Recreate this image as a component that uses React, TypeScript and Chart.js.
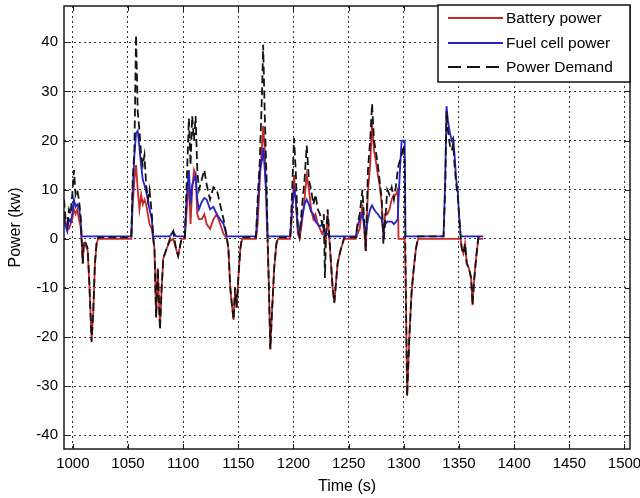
import React, { useEffect, useRef } from "react";
import { Chart, registerables } from "chart.js";

Chart.register(...registerables);

// ---- data ----
const times = [
  992, 993.5, 995, 996.5, 998, 999.5, 1001, 1002.5, 1004, 1005.5,
  1007, 1008, 1009, 1010, 1012, 1013.5, 1015, 1017, 1018.5, 1020,
  1021.5, 1023, 1053, 1054.3, 1055.8, 1057.3, 1058.8, 1060.4, 1061.9, 1063.4,
  1064.9, 1066.5, 1068, 1069.5, 1071.6, 1072.8, 1074, 1075.5, 1077, 1079,
  1080.5, 1082, 1085, 1088, 1091, 1093.5, 1095.4, 1098.5, 1101.5, 1103,
  1105.2, 1106.7, 1108.2, 1109.8, 1111.3, 1112.8, 1114.3, 1116.8, 1119.2, 1121.3,
  1124.4, 1127.4, 1130.5, 1133.5, 1136.6, 1139.6, 1141, 1142.7, 1144, 1145.7,
  1147, 1148.5, 1150, 1151.8, 1153.4, 1166, 1167.5, 1169.5, 1171.5, 1172.5,
  1174, 1175.6, 1176.5, 1177.5, 1179, 1180.5, 1182.5, 1184.5, 1186, 1197,
  1198.5, 1200.5, 1202, 1204, 1205.5, 1207.5, 1210, 1212, 1214, 1216,
  1218, 1220, 1222, 1224, 1226, 1227.5, 1228.5, 1229.5, 1231, 1232.5,
  1234, 1235.5, 1237, 1238.5, 1240, 1243, 1246, 1256.5, 1258, 1260,
  1262.5, 1264, 1265.5, 1267.5, 1269.5, 1271.2, 1273, 1274.5, 1276.5, 1278,
  1280, 1281.5, 1283, 1285, 1287, 1289, 1291, 1293, 1294.5, 1295.2,
  1296.5, 1298, 1300, 1300.8, 1301.5, 1303, 1305, 1307, 1309, 1311,
  1313, 1336, 1337.5, 1338.7, 1340, 1341.8, 1343.5, 1344.8, 1346, 1347.5,
  1348.8, 1350, 1351.5, 1352.5, 1354, 1355.5, 1357, 1359, 1361, 1362.3,
  1363.5, 1365.5, 1367.5, 1372,
];

const powerDemand = [
  8, 4, 3, 6, 5, 9, 14, 9, 10, 8,
  5, 0, -5, -0.5, -1, -2, -9, -21, -15, -5,
  -1, 0.3, 0.3, 12, 18, 41.5, 26, 22, 17, 15,
  17, 11, 8, 10, 5, 0.3, -2, -16, -6, -18.5,
  -10, -4, -2, 0, 1.5, -2, -3.5, 0, 0.3, 10,
  24.5, 15, 25, 20, 25, 14, 10, 12, 14, 11,
  8, 10.5, 10, 7, 4, 0.3, -2, -10, -13, -16.5,
  -10, -14, -8, -2, 0.3, 0.3, 8, 16, 30, 39.5,
  25, 12, 0.3, -8, -22.5, -15, -6, -1, 0.3, 0.3,
  8, 20.5, 14, 2, 0.5, 6, 12, 19, 12, 10,
  7, 9, 6, 5, 3, 5, -8, 1, 6, 0.3,
  -5, -10, -13, -9, -5, -2, 0.3, 0.3, 3, 5,
  10, 4, -2.5, 14, 20, 27.5, 20, 18, 15, 12,
  8, -1, 3, 10, 9, 10.5, 8, 11, 14, 15,
  16, 17, 19, 15, -5, -32, -20, -11, -6, -2,
  0.5, 0.5, 10, 26, 22, 19, 18, 19.5, 15, 11,
  9, 5, 0.5, -2, -3, -1, -5, -6, -8, -13.5,
  -9, -4, 0.3, 0.3,
];

const fuelCellPower = [
  4, 2.5, 1.5, 4, 3.5, 5, 8, 6.5, 7, 6.5,
  4, 0.5, 0.5, 0.5, 0.5, 0.5, 0.5, 0.5, 0.5, 0.5,
  0.5, 0.5, 0.5, 10, 17, 21.5, 22, 18.5, 15, 12,
  11, 9.5, 8, 6, 4, 0.5, 0.5, 0.5, 0.5, 0.5,
  0.5, 0.5, 0.5, 0.5, 1.5, 0.5, 0.5, 0.5, 0.5, 8,
  14, 7, 11, 12, 13, 8, 6, 7.5, 8.3, 8,
  6, 6.5, 5, 4, 3, 0.5, 0.5, 0.5, 0.5, 0.5,
  0.5, 0.5, 0.5, 0.5, 0.5, 0.5, 6, 14, 16, 18.5,
  14, 8, 0.5, 0.5, 0.5, 0.5, 0.5, 0.5, 0.5, 0.5,
  6, 10, 8, 2, 1.5, 4, 7, 8, 7, 5.5,
  5, 3.5, 3, 2.5, 3, 2, 0.5, 1, 1, 0.5,
  0.5, 0.5, 0.5, 0.5, 0.5, 0.5, 0.5, 0.5, 2.5, 4,
  5, 3, 1, 4, 6, 6.8, 6, 5.5, 5, 4.5,
  4, 1.5, 3, 3.5, 3.5, 3.5, 3, 3.5, 4, 8,
  14, 20, 20, 20, 0.5, 0.5, 0.5, 0.5, 0.5, 0.5,
  0.5, 0.5, 12, 27, 24, 21.5, 20, 20.5, 17, 12,
  10, 5, 0.5, 0.5, 0.5, 0.5, 0.5, 0.5, 0.5, 0.5,
  0.5, 0.5, 0.5, 0.5,
];

const batteryPower = [
  5, 3, 2, 2, 3, 4, 6, 5, 6, 4,
  2.5, -0.5, -5, -1, -1.5, -2.5, -9.5, -20.5, -15, -5.5,
  -1, 0, 0, 7, 12, 15, 10, 6, 9, 7,
  8, 7, 5, 3, 2, 0, -2, -16, -6, -18,
  -10, -4, -2, -0.5, 0, -2, -3.5, 0, 0, 5,
  12, 3, 10, 14, 13, 5, 4, 4, 5, 3,
  2, 4, 5, 3, 1, 0, -2, -10, -13, -16.5,
  -11, -14, -8, -2, 0, 0, 3, 12, 19, 23,
  18, 5, 0, -8, -22.5, -15, -6, -1, 0, 0,
  4, 13, 8, 1, 0, 3, 8, 13, 10, 6,
  4, 5, 3, 2, 1, 2, -1, 0, 5, 0,
  -5, -10, -13, -9, -5, -2, 0, 0, 1, 2,
  7, 2, -2.5, 10, 15, 23.5, 18, 16, 13, 11,
  7, -0.5, 5, 5, 6, 8, 9, 9, 10, 0,
  0, 0, 0, 0, -5, -32, -20, -11, -6, -2,
  0, 0, 0, 0, 0, 0, 0, 0, 0, 0,
  0, 0, 0, -2, -3, -1, -5, -6, -8, -13.5,
  -9, -4, 0, 0,
];

const xTickValues = [1000, 1050, 1100, 1150, 1200, 1250, 1300, 1350, 1400, 1450, 1500];
const yTickValues = [-40, -30, -20, -10, 0, 10, 20, 30, 40];
const seriesLabels = ["Battery power", "Fuel cell power", "Power Demand"];
const seriesColors = ["#c8282a", "#2323c6", "#141414"];

const FONT = "'Liberation Sans', Arial, Helvetica, sans-serif";

const toPoints = (vals: number[]) => times.map((t, i) => ({ x: t, y: vals[i] }));

const framePlugin = {
  id: "matlabFrame",
  afterDatasetsDraw(chart: any) {
    const { ctx, chartArea: a, scales } = chart;
    ctx.save();
    ctx.strokeStyle = "#1a1a1a";
    ctx.lineWidth = 1;
    ctx.setLineDash([]);
    const L = 5;
    ctx.beginPath();
    for (const v of xTickValues) {
      const x = Math.round(scales.x.getPixelForValue(v)) + 0.5;
      ctx.moveTo(x, a.bottom);
      ctx.lineTo(x, a.bottom - L);
      ctx.moveTo(x, a.top);
      ctx.lineTo(x, a.top + L);
    }
    for (const v of yTickValues) {
      const y = Math.round(scales.y.getPixelForValue(v)) + 0.5;
      ctx.moveTo(a.left, y);
      ctx.lineTo(a.left + L, y);
      ctx.moveTo(a.right, y);
      ctx.lineTo(a.right - L, y);
    }
    ctx.stroke();
    ctx.lineWidth = 1.5;
    ctx.strokeRect(a.left, a.top, a.right - a.left, a.bottom - a.top);
    ctx.restore();
  },
  afterDraw(chart: any) {
    const { ctx, chartArea: a } = chart;
    const w = 192;
    const h = 77;
    const left = a.right - w;
    const top = a.top - 1;
    ctx.save();
    ctx.fillStyle = "#ffffff";
    ctx.fillRect(left, top, w, h);
    ctx.strokeStyle = "#111";
    ctx.lineWidth = 1.5;
    ctx.setLineDash([]);
    ctx.strokeRect(left, top, w, h);
    const rows = [13, 38, 62];
    ctx.font = `15.5px ${FONT}`;
    ctx.textBaseline = "middle";
    ctx.textAlign = "left";
    seriesLabels.forEach((label, i) => {
      const y = top + rows[i];
      ctx.beginPath();
      ctx.strokeStyle = seriesColors[i];
      ctx.lineWidth = 1.8;
      ctx.setLineDash(i === 2 ? [13, 6] : []);
      ctx.moveTo(left + 10, y);
      ctx.lineTo(left + 65, y);
      ctx.stroke();
      ctx.setLineDash([]);
      ctx.fillStyle = "#000";
      ctx.fillText(label, left + 68, y + 1);
    });
    ctx.restore();
  },
};

export default function App() {
  const canvasRef = useRef<HTMLCanvasElement | null>(null);

  useEffect(() => {
    const canvas = canvasRef.current;
    if (!canvas) return;
    const chart = new Chart(canvas, {
      type: "line",
      data: {
        datasets: [
          {
            label: seriesLabels[2],
            data: toPoints(powerDemand),
            borderColor: seriesColors[2],
            borderWidth: 1.8,
            borderDash: [8, 4],
            pointRadius: 0,
            tension: 0,
            order: 0,
          },
          {
            label: seriesLabels[1],
            data: toPoints(fuelCellPower),
            borderColor: seriesColors[1],
            borderWidth: 1.8,
            pointRadius: 0,
            tension: 0,
            order: 1,
          },
          {
            label: seriesLabels[0],
            data: toPoints(batteryPower),
            borderColor: seriesColors[0],
            borderWidth: 1.8,
            pointRadius: 0,
            tension: 0,
            order: 2,
          },
        ],
      },
      options: {
        responsive: false,
        animation: false,
        events: [],
        layout: { padding: { top: 6, right: 10, left: 0, bottom: 0 } },
        plugins: {
          legend: { display: false },
          tooltip: { enabled: false },
        },
        scales: {
          x: {
            type: "linear",
            min: 992,
            max: 1505,
            afterBuildTicks: (s: any) => {
              s.ticks = xTickValues.map((v) => ({ value: v }));
            },
            afterFit: (s: any) => {
              s.height = 49;
              s.paddingLeft = 0;
              s.paddingRight = 0;
            },
            grid: { color: "#333", lineWidth: 1, drawTicks: false },
            border: { display: false, dash: [2, 3] },
            ticks: {
              autoSkip: false,
              maxRotation: 0,
              padding: 6,
              color: "#000",
              font: { family: FONT, size: 15 },
              callback: (v: any) => String(v),
            },
            title: {
              display: true,
              text: "Time (s)",
              color: "#000",
              font: { family: FONT, size: 16 },
              padding: { top: 0, bottom: 2 },
            },
          },
          y: {
            type: "linear",
            min: -42.8,
            max: 47.4,
            afterBuildTicks: (s: any) => {
              s.ticks = yTickValues.map((v) => ({ value: v }));
            },
            afterFit: (s: any) => {
              s.width = 64;
              s.paddingTop = 0;
              s.paddingBottom = 0;
            },
            grid: { color: "#333", lineWidth: 1, drawTicks: false },
            border: { display: false, dash: [2, 3] },
            ticks: {
              autoSkip: false,
              padding: 6,
              color: "#000",
              font: { family: FONT, size: 15 },
              callback: (v: any) => String(v),
            },
            title: {
              display: true,
              text: "Power (kw)",
              color: "#000",
              font: { family: FONT, size: 16 },
              padding: { top: 6, bottom: 0 },
            },
          },
        },
      },
      plugins: [framePlugin],
    });
    return () => chart.destroy();
  }, []);

  return (
    <div style={{ position: "fixed", left: 0, top: 0, width: 640, height: 498, background: "#fff" }}>
      <canvas ref={canvasRef} width={640} height={498} style={{ display: "block" }} />
    </div>
  );
}
